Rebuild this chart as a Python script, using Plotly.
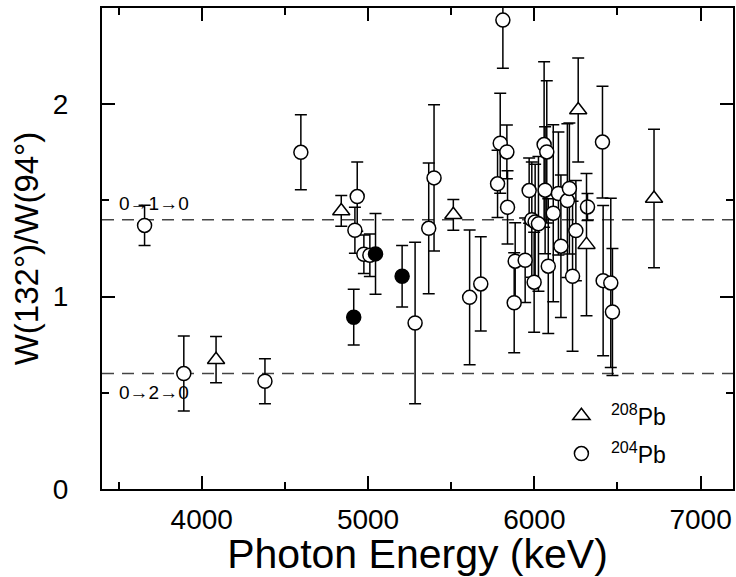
import plotly.graph_objects as go

# 204Pb (open circles)
e204 = [3656, 3892, 4380, 4596, 4921, 4935, 4975, 5011, 5283, 5365, 5397, 5611, 5678,
        5779, 5795, 5811, 5835, 5839, 5879, 5885, 5945, 5969, 5985, 6005, 6025, 5999,
        6059, 6065, 6075, 6084, 6114, 6145, 6160, 6199, 6211, 6230, 6250, 6320, 6410,
        6414, 6460, 6470]
w204 = [1.37, 0.60, 0.56, 1.75, 1.345, 1.52, 1.22, 1.215, 0.863, 1.355, 1.617, 0.996, 1.066,
        1.586, 1.797, 2.437, 1.752, 1.464, 0.968, 1.184, 1.189, 1.551, 1.400, 1.388, 1.378, 1.075,
        1.790, 1.553, 1.752, 1.158, 1.433, 1.536, 1.262, 1.499, 1.562, 1.106, 1.343, 1.466, 1.803,
        1.083, 1.071, 0.920]
d204 = [0.105, 0.195, 0.117, 0.195, 0.12, 0.18, 0.10, 0.11, 0.42, 0.34, 0.38, 0.35, 0.245,
        0.175, 0.26, 0.25, 0.14, 0.19, 0.26, 0.20, 0.22, 0.17, 0.30, 0.30, 0.35, 0.26,
        0.43, 0.33, 0.37, 0.35, 0.46, 0.32, 0.37, 0.40, 0.34, 0.39, 0.26, 0.07, 0.29,
        0.39, 0.44, 0.33]

# 208Pb (open triangles)
e208 = [4086, 4839, 5513, 6264, 6314, 6720]
w208 = [0.672, 1.445, 1.425, 1.97, 1.27, 1.51]
d208 = [0.12, 0.08, 0.08, 0.27, 0.37, 0.36]

# filled circles
ef = [4914, 5045, 5205]
wf = [0.893, 1.222, 1.106]
df = [0.145, 0.21, 0.16]

ref_lines = [1.4, 0.6]
ref_labels = ["0→1→0", "0→2→0"]

FONT = "Liberation Sans, Arial, Helvetica, sans-serif"

fig = go.Figure()

fig.add_trace(go.Scatter(
    x=e204, y=w204, mode="markers", name="<sup>204</sup>Pb", legendgroup="b", legendrank=2,
    marker=dict(symbol="circle", size=14, color="white", line=dict(color="black", width=1.5)),
    error_y=dict(type="data", array=d204, color="black", thickness=1.5, width=6),
))
fig.add_trace(go.Scatter(
    x=ef, y=wf, mode="markers", showlegend=False,
    marker=dict(symbol="circle", size=14, color="black", line=dict(color="black", width=1.5)),
    error_y=dict(type="data", array=df, color="black", thickness=1.5, width=6),
))
fig.add_trace(go.Scatter(
    x=e208, y=w208, mode="markers", name="<sup>208</sup>Pb", legendgroup="a", legendrank=1,
    marker=dict(symbol="triangle-up", size=15, color="white", line=dict(color="black", width=1.5)),
    error_y=dict(type="data", array=d208, color="black", thickness=1.5, width=6),
))

for yv in ref_lines:
    fig.add_hline(y=yv, line=dict(color="#444444", width=1.5, dash="12px,8px"), layer="below")

fig.add_annotation(x=3490, y=ref_lines[0], xref="x", yref="y", text=ref_labels[0],
                   showarrow=False, xanchor="left", yanchor="middle", yshift=16,
                   font=dict(family=FONT, size=19, color="black"))
fig.add_annotation(x=3490, y=ref_lines[1], xref="x", yref="y", text=ref_labels[1],
                   showarrow=False, xanchor="left", yanchor="middle", yshift=-19,
                   font=dict(family=FONT, size=19, color="black"))

axis_common = dict(
    showgrid=False, zeroline=False, showline=True, linecolor="black", linewidth=2,
    mirror="ticks", ticks="inside", ticklen=13, tickwidth=1.5, tickcolor="black",
    tickfont=dict(family=FONT, size=28, color="black"),
)

fig.update_xaxes(
    range=[3400, 7195], tickmode="array", tickvals=[4000, 5000, 6000, 7000],
    ticktext=["4000", "5000", "6000", "7000"],
    minor=dict(tickvals=[3500, 4500, 5500, 6500], ticklen=7, tickwidth=1.5, tickcolor="black", ticks="inside"),
    title=dict(text="Photon Energy (keV)", font=dict(family=FONT, size=41, color="black"), standoff=2),
    ticklabelstandoff=4,
    **axis_common,
)
fig.update_yaxes(
    range=[0, 2.5], tickmode="array", tickvals=[0, 1, 2], ticktext=["0", "1", "2"],
    minor=dict(tickvals=[0.5, 1.5], ticklen=7, tickwidth=1.5, tickcolor="black", ticks="inside"),
    title=dict(text="W(132°)/W(94°)", font=dict(family=FONT, size=33, color="black"), standoff=4),
    ticklabelstandoff=26,
    **axis_common,
)

fig.update_layout(
    width=736, height=577,
    margin=dict(l=102, r=1, t=8, b=88),
    paper_bgcolor="white", plot_bgcolor="white",
    showlegend=True,
    legend=dict(x=0.713, y=0.197, xanchor="left", yanchor="top", traceorder="grouped",
                tracegroupgap=5,
                bgcolor="rgba(0,0,0,0)", font=dict(family=FONT, size=23, color="black"),
                itemwidth=49),
)

fig.write_html("out.html")
